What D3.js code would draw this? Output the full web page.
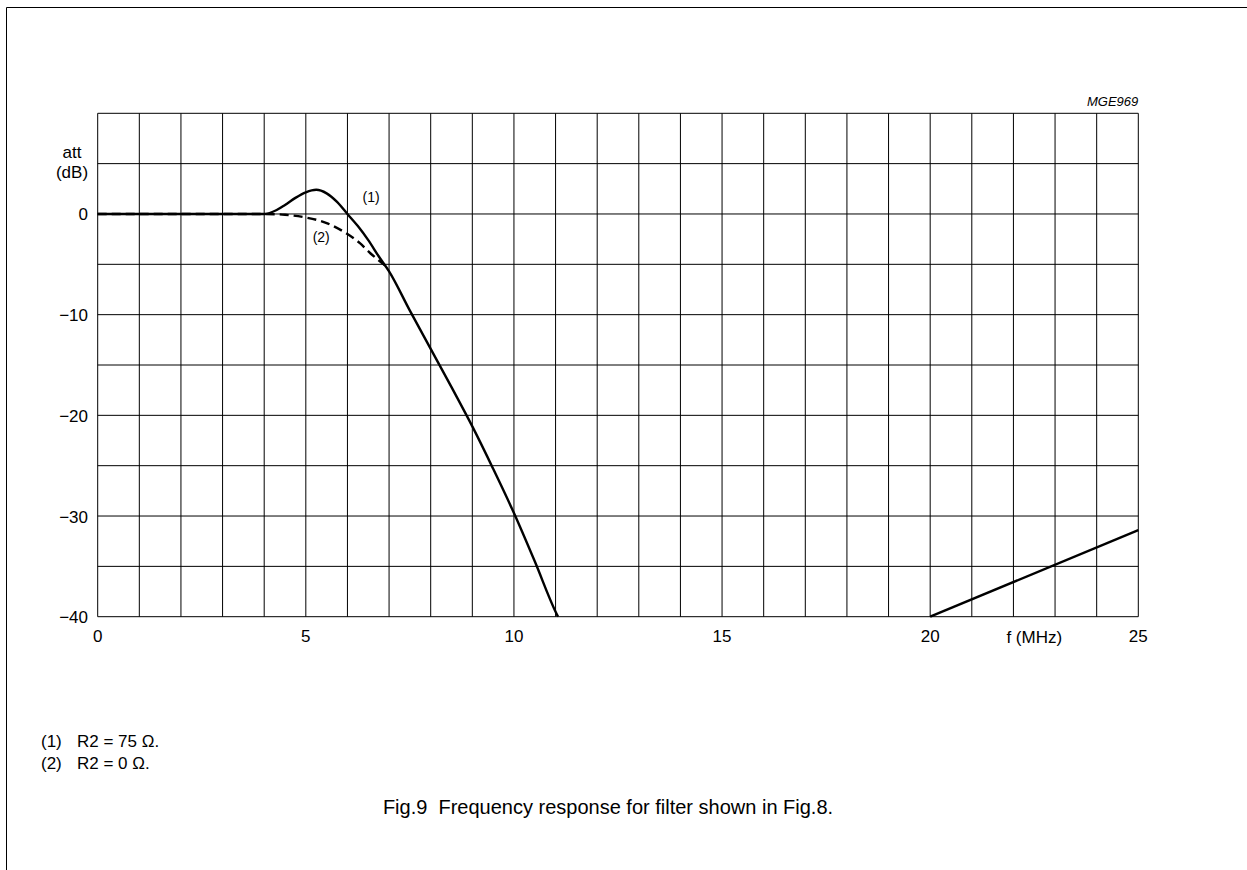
<!DOCTYPE html>
<html>
<head>
<meta charset="utf-8">
<script src="https://cdn.jsdelivr.net/npm/d3@7"></script>
<style>
  body { margin: 0; background: #fff; }
  text { font-family: "Liberation Sans", Arial, sans-serif; fill: #000; white-space: pre; }
</style>
</head>
<body>
<div id="chart"></div>
<script>
// curve (1): R2 = 75 ohm
const freq1 = [0, 4, 4.3, 4.5, 4.75, 5, 5.25, 5.5, 5.75, 6, 6.25, 6.5, 6.75, 7, 7.5, 8, 8.5, 9, 9.5, 10, 10.5, 11, 11.06];
const att1  = [0, 0, 0.4, 0.9, 1.6, 2.15, 2.4, 2.05, 1.2, 0, -1.2, -2.6, -4.2, -5.7, -9.6, -13.4, -17.2, -21.1, -25.3, -29.7, -34.5, -39.5, -40];
// curve (2): R2 = 0 ohm
const freq2 = [0, 4, 4.5, 5, 5.5, 6, 6.3, 6.55, 6.75, 6.9];
const att2  = [0, 0, -0.08, -0.35, -0.9, -2.0, -2.9, -3.9, -4.6, -5.1];
// rising stop-band branch
const freq3 = [20, 25];
const att3  = [-40, -31.4];

const xTicks = [0, 5, 10, 15, 20, 25];
const yTicks = [0, -10, -20, -30, -40];
const notes = ["(1)", "(2)"];
const noteText = ["R2 = 75 \u03A9.", "R2 = 0 \u03A9."];

const W = 1247, H = 870;
const svg = d3.select("#chart").append("svg")
  .attr("width", W).attr("height", H);

// page frame (top and left edges)
svg.append("path")
  .attr("d", `M6.5,${H} V7.5 H${W}`)
  .attr("fill", "none").attr("stroke", "#000").attr("stroke-width", 1);

const x = d3.scaleLinear().domain([0, 25]).range([97.7, 1138.3]);
const y = d3.scaleLinear().domain([-40, 10]).range([616.7, 113.3]);

// grid
const grid = svg.append("g").attr("stroke", "#000").attr("stroke-width", 1);
grid.selectAll(".v").data(d3.range(0, 26)).enter().append("line")
  .attr("x1", d => x(d)).attr("x2", d => x(d))
  .attr("y1", y(10)).attr("y2", y(-40));
grid.selectAll(".h").data(d3.range(-40, 11, 5)).enter().append("line")
  .attr("x1", x(0)).attr("x2", x(25))
  .attr("y1", d => y(d)).attr("y2", d => y(d));

// tick labels
svg.selectAll(".xt").data(xTicks).enter().append("text")
  .attr("x", d => x(d)).attr("y", 642)
  .attr("text-anchor", "middle").attr("font-size", 17)
  .text(d => d);
svg.selectAll(".yt").data(yTicks).enter().append("text")
  .attr("x", 88).attr("y", d => y(d) + 6.5)
  .attr("text-anchor", "end").attr("font-size", 17)
  .text(d => d < 0 ? "\u2212" + Math.abs(d) : d);

svg.append("text").attr("x", x(22.5)).attr("y", 643)
  .attr("text-anchor", "middle").attr("font-size", 17).text("f (MHz)");
svg.append("text").attr("x", 72).attr("y", 158)
  .attr("text-anchor", "middle").attr("font-size", 17).text("att");
svg.append("text").attr("x", 72).attr("y", 178)
  .attr("text-anchor", "middle").attr("font-size", 17).text("(dB)");
svg.append("text").attr("x", x(25)).attr("y", 105.5)
  .attr("text-anchor", "end").attr("font-size", 13)
  .attr("font-style", "italic").text("MGE969");

// curves
const smooth = d3.line().x(d => x(d[0])).y(d => y(d[1])).curve(d3.curveMonotoneX);
const straight = d3.line().x(d => x(d[0])).y(d => y(d[1]));
const draw = (fs, as, gen, dash) => svg.append("path")
  .datum(fs.map((f, i) => [f, as[i]]))
  .attr("d", gen)
  .attr("fill", "none").attr("stroke", "#000").attr("stroke-width", 2.4)
  .attr("stroke-dasharray", dash);

draw(freq2, att2, smooth, "9,5");
draw(freq1, att1, smooth, null);
draw(freq3, att3, straight, null);

svg.append("text").attr("x", x(6.57)).attr("y", y(1.7) + 5)
  .attr("text-anchor", "middle").attr("font-size", 14).text("(1)");
svg.append("text").attr("x", x(5.37)).attr("y", y(-2.3) + 5)
  .attr("text-anchor", "middle").attr("font-size", 14).text("(2)");

// footnotes
notes.forEach((n, i) => {
  svg.append("text").attr("x", 41).attr("y", 747 + i * 22)
    .attr("font-size", 17).text(n);
  svg.append("text").attr("x", 77).attr("y", 747 + i * 22)
    .attr("font-size", 17).text(noteText[i]);
});

// caption
svg.append("text").attr("x", 608).attr("y", 814)
  .attr("text-anchor", "middle").attr("font-size", 20)
  .text("Fig.9  Frequency response for filter shown in Fig.8.");
</script>
</body>
</html>
